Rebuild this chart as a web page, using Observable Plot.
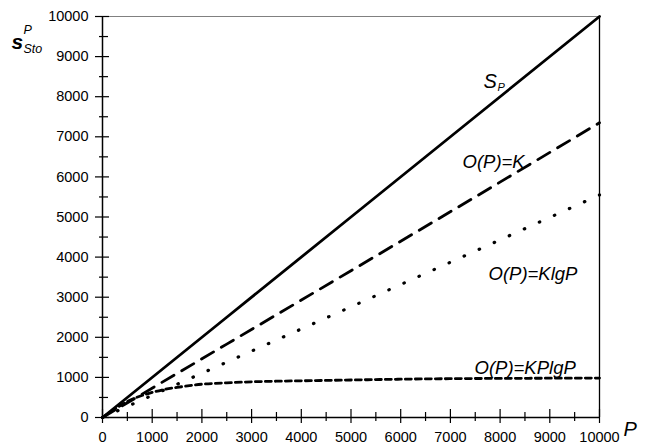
<!DOCTYPE html>
<html>
<head>
<meta charset="utf-8">
<script src="https://cdn.jsdelivr.net/npm/d3@7"></script>
<script src="https://cdn.jsdelivr.net/npm/@observablehq/plot@0.6"></script>
<style>
  html, body { margin: 0; padding: 0; background: #fff; }
  #chart svg { display: block; }
</style>
</head>
<body>
<div id="chart"></div>
<script>
// Storage size s_Sto^P as a function of P for several cost models
const pGrid = [0, 2500, 5000, 7500, 10000];
const sP = [0, 2500, 5000, 7500, 10000];          // S_P
const oConst = [0, 1830, 3660, 5500, 7350];       // O(P)=K
const oLog = [0, 1380, 2760, 4150, 5550];         // O(P)=KlgP

const pGridPlog = [0, 300, 500, 750, 1000, 1250, 1500, 2000, 2500, 3000, 3500, 4000, 5000, 6000, 7000, 8000, 9000, 10000];
const oPlog = [0, 250, 400, 530, 625, 700, 750, 830, 865, 890, 905, 915, 935, 955, 968, 975, 980, 983]; // O(P)=KPlgP

const xMajor = d3.range(0, 10001, 1000);
const xMinor = d3.range(500, 10000, 1000);
const yMajor = d3.range(0, 10001, 1000);
const yMinor = d3.range(500, 10000, 1000);

const toPoints = (xs, ys) => xs.map((x, i) => ({x, y: ys[i]}));

const font = "Arial, 'Liberation Sans', Helvetica, sans-serif";

const chart = Plot.plot({
  width: 646,
  height: 446,
  marginLeft: 102,
  marginRight: 47,
  marginTop: 16,
  marginBottom: 29,
  style: {fontFamily: font, fontSize: "14px", color: "#000", background: "#fff", overflow: "visible"},
  x: {domain: [0, 10000], axis: null},
  y: {domain: [0, 10000], axis: null},
  marks: [
    // frame: grey top edge, black right edge
    Plot.ruleY([10000], {stroke: "#808080", strokeWidth: 1.2}),
    Plot.ruleX([10000], {stroke: "#000", strokeWidth: 1.3}),
    // axes lines
    Plot.ruleY([0], {stroke: "#000", strokeWidth: 1.5}),
    Plot.ruleX([0], {stroke: "#000", strokeWidth: 1.5}),
    // crossing ticks on the x axis
    Plot.ruleX(xMajor, {x: d => d, y1: 0, y2: 0, insetTop: -8, insetBottom: -6, stroke: "#000", strokeWidth: 1.2}),
    Plot.ruleX(xMinor, {x: d => d, y1: 0, y2: 0, insetTop: -5, insetBottom: -4, stroke: "#000", strokeWidth: 1.2}),
    // crossing ticks on the y axis
    Plot.ruleY(yMajor, {y: d => d, x1: 0, x2: 0, insetLeft: -7, insetRight: -7, stroke: "#000", strokeWidth: 1.2}),
    Plot.ruleY(yMinor, {y: d => d, x1: 0, x2: 0, insetLeft: -3, insetRight: -6, stroke: "#000", strokeWidth: 1.2}),
    // tick labels
    Plot.axisX(xMajor, {tickSize: 0, tickPadding: 14, tickFormat: d => String(d), fontSize: 14.5, label: null}),
    Plot.axisY(yMajor, {tickSize: 0, tickPadding: 14, tickFormat: d => String(d), fontSize: 14.5, label: null}),
    // curves
    Plot.line(toPoints(pGrid, sP), {x: "x", y: "y", stroke: "#000", strokeWidth: 2.8}),
    Plot.line(toPoints(pGrid, oConst), {x: "x", y: "y", stroke: "#000", strokeWidth: 2.8, strokeDasharray: "14 9"}),
    Plot.line(toPoints(pGrid, oLog), {x: "x", y: "y", stroke: "#000", strokeWidth: 3.2, strokeDasharray: "0.5 16", strokeLinecap: "round"}),
    Plot.line(toPoints(pGridPlog, oPlog), {x: "x", y: "y", stroke: "#000", strokeWidth: 2.8, strokeDasharray: "6 4", curve: "monotone-x"}),
    // curve labels
    Plot.text(["S"], {frameAnchor: "top-left", dx: 381, dy: 57, text: d => d, fontStyle: "italic", fontSize: 20, textAnchor: "start"}),
    Plot.text(["P"], {frameAnchor: "top-left", dx: 395, dy: 67, text: d => d, fontStyle: "italic", fontSize: 11, textAnchor: "start"}),
    Plot.text(["O(P)=K"], {frameAnchor: "top-left", dx: 360, dy: 138, text: d => d, fontStyle: "italic", fontSize: 18.5, textAnchor: "start"}),
    Plot.text(["O(P)=KlgP"], {frameAnchor: "top-left", dx: 386, dy: 250, text: d => d, fontStyle: "italic", fontSize: 18.5, textAnchor: "start"}),
    Plot.text(["O(P)=KPlgP"], {frameAnchor: "top-left", dx: 372, dy: 344, text: d => d, fontStyle: "italic", fontSize: 18.5, textAnchor: "start"}),
    // axis titles
    Plot.text(["s"], {frameAnchor: "top-left", dx: -91, dy: 18, text: d => d, fontStyle: "italic", fontWeight: "bold", fontSize: 21, textAnchor: "start"}),
    Plot.text(["P"], {frameAnchor: "top-left", dx: -79, dy: 9, text: d => d, fontStyle: "italic", fontSize: 12.5, textAnchor: "start"}),
    Plot.text(["Sto"], {frameAnchor: "top-left", dx: -79, dy: 28, text: d => d, fontStyle: "italic", fontSize: 12.5, textAnchor: "start"}),
    Plot.text(["P"], {frameAnchor: "bottom-right", dx: 24, dy: 18, text: d => d, fontStyle: "italic", fontSize: 20, textAnchor: "start"})
  ]
});

document.getElementById("chart").appendChild(chart);
</script>
</body>
</html>
